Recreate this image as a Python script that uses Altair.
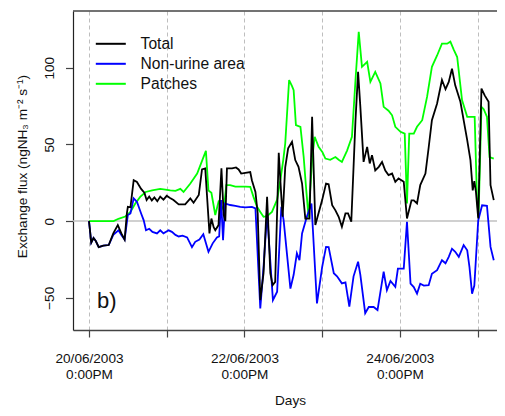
import pandas as pd
import altair as alt

# Hours after 20/06/2003 12:00 and exchange flux (ngNH3 m-2 s-1)
total_h = [0, 0.7, 1.4, 2.1, 3.0, 4.4, 6.1, 7.5, 8.9, 10.0,
           11.0, 11.7, 12.0, 12.8, 13.8, 14.8, 16.1, 17.1, 17.8, 18.6,
           19.4, 20.2, 21.1, 22.0, 23.0, 24.0, 24.9, 26.1, 27.7, 29.7,
           31.3, 32.3, 33.9, 34.9, 35.9, 37.2, 37.8, 38.5, 39.0, 40.0,
           40.9, 41.6, 42.1, 42.6, 44.2, 45.4, 46.2, 47.0, 48.3, 49.8,
           50.3, 51.4, 52.1, 52.9, 53.9, 55.0, 56.0, 56.7, 57.5, 58.6,
           59.4, 59.8, 60.6, 61.5, 62.7, 63.7, 64.7, 65.8, 66.8, 68.1,
           68.9, 69.9, 72.0, 73.2, 74.0, 75.1, 76.1, 77.1, 78.1, 79.2,
           80.0, 81.0, 82.3, 83.1, 83.8, 84.8, 85.9, 86.7, 87.4, 88.4,
           89.5, 90.5, 91.5, 92.5, 93.6, 94.6, 95.6, 97.2, 98.2, 99.6,
           100.3, 101.3, 102.3, 103.9, 104.9, 105.9, 107.5, 109.0, 110.1, 111.1,
           112.1, 113.1, 114.7, 115.7, 116.8, 117.8, 118.5, 119.0, 119.5, 120.2,
           121.2, 122.2, 123.4, 124.0, 125.0]
total_v = [0, -14, -11, -13, -17, -16, -15.6, -8, -2.6, -8,
           -12, 5, 9.3, 9, 26.7, 25.5, 21, 18.5, 13.7, 16,
           13.5, 15.5, 13, 16, 14, 16.5, 15.2, 13.7, 10.9, 10.9,
           14.8, 12, 17, 33.7, 34.4, -8, 1.7, -4, -6, -2.6,
           34.4, 4, 0, 34.4, 34.4, 35, 33.7, 31, 31.5, 32,
           26.7, 19, 5, -51.5, -34, 15.8, -34, -41.7, -39.6, 44.5,
           15.8, 2.8, 35, 47.4, 51.7, 39.8, 35.4, 24.5, 1.7, 1.7,
           68, -2.6, 13.7, 24.5, 24, 10.4, 7, 2.8, -3.7, 5,
           5, -0.4, 65.8, 97.3, 74.5, 38.6, 48.4, 37.6, 43, 33,
           35.4, 38.6, 33, 30, 31, 25.6, 27.8, 25.6, 1.7, 13.5,
           13.5, 11.5, 23.5, 31, 48, 65.8, 76.7, 92, 86, 90.8,
           99.4, 88.5, 77.8, 65.8, 52.8, 39.8, 20, 26, 19, 1.7,
           86.4, 82, 77.8, 23.5, 13.7]

nonurine_h = [0, 0.7, 1.4, 2.1, 3.0, 4.4, 6.1, 7.5, 9.1, 10.0,
              11.0, 12.0, 12.8, 13.8, 14.8, 16.1, 16.9, 17.6, 18.6, 19.6,
              21.0, 22.0, 23.0, 24.6, 25.6, 26.7, 27.7, 28.9, 30.3, 31.8,
              32.8, 34.1, 35.3, 36.9, 38.2, 39.5, 40.2, 40.8, 41.4, 42.0,
              43.6, 45.2, 46.7, 48.3, 50.3, 51.4, 52.9, 53.9, 55.0, 56.8,
              58.1, 59.4, 60.1, 62.2, 63.2, 64.2, 65.0, 65.8, 67.3, 68.7,
              70.4, 72.0, 73.2, 74.0, 75.6, 76.6, 78.1, 79.2, 80.4, 81.7,
              83.1, 83.8, 85.3, 86.4, 87.9, 89.1, 91.0, 92.0, 93.1, 94.6,
              95.4, 97.2, 98.2, 99.3, 100.3, 101.3, 102.3, 103.4, 104.9, 105.9,
              107.5, 109.0, 110.1, 111.1, 112.1, 113.1, 114.2, 115.7, 116.8, 117.5,
              118.3, 119.0, 120.2, 121.4, 122.9, 124.0, 125.0]
nonurine_v = [0, -14, -11, -13, -17, -16, -15.6, -9, -6, -9,
              -12, 4, 5, 14.8, 12.6, 5, 0.5, -6, -5, -7,
              -8, -6, -8, -6, -7, -9, -10, -9.5, -10.6, -17,
              -13.5, -12, -8.5, -20, -14.5, -10.6, -10, 13.7, -12.4, 11.5,
              10.5, 10, 9.3, 9, 9.3, 8.3, -57, -30, 5, -51.5,
              -46, 9.3, 0.6, -44, -35, -21, -25.4, -8, 3, 11.5,
              -53.7, -30, -16.8, -17, -34, -36, -40.6, -40, -55.8, -36,
              -26.5, -35, -60, -56, -56, -58, -33, -45, -39, -42.8,
              -31, -31, -0.5, -40.8, -43, -47.3, -40.8, -42, -41.8, -34.3,
              -32, -25.5, -27.5, -23.3, -18, -20, -23.3, -15.6, -19, -30,
              -47.3, -42, 0.4, 10.3, 10, -16.8, -25.5]

patches_h = [0, 7.6, 9.1, 11.2, 12.8, 14.3, 15.8, 17.5, 19.5, 22.0,
             23.6, 25.1, 26.7, 28.2, 29.2, 31.3, 33.4, 36.1, 36.9, 37.8,
             39.0, 40.0, 40.9, 41.6, 42.4, 43.6, 45.2, 46.7, 48.3, 49.8,
             50.8, 51.9, 52.9, 53.9, 55.0, 56.5, 58.1, 59.1, 60.0, 60.6,
             61.8, 62.7, 63.2, 63.9, 65.3, 66.3, 67.1, 67.8, 68.9, 69.7,
             70.9, 72.1, 73.0, 74.5, 76.1, 77.1, 78.1, 79.7, 81.2, 82.3,
             83.3, 84.3, 85.9, 86.9, 88.4, 90.0, 91.0, 92.5, 93.6, 94.6,
             96.2, 97.5, 98.2, 98.9, 100.3, 101.3, 102.9, 104.4, 105.9, 107.5,
             109.0, 110.6, 111.6, 112.6, 113.7, 115.2, 116.8, 119.1, 119.8, 120.3,
             121.2, 121.9, 122.9, 123.7, 125.0]
patches_v = [0, 0, 1.5, 3, 6, 11.5, 15.8, 19, 20, 21,
             20.5, 20, 19.7, 21, 19, 24.5, 31, 45.8, 20, 18.5,
             4, 12.6, 10, 7, 23.5, 23.5, 22.5, 22.5, 22.5, 22.4,
             15.8, 9.3, 6, 2.8, 3.3, 6, 14, 26.7, 40, 50.6,
             92, 88, 85.4, 62.6, 61.5, 41.8, 20, 2.8, 40, 55,
             48.4, 45, 40.8, 40, 41.8, 40, 38.6, 46, 55, 92,
             123.4, 100.6, 103.8, 90.8, 97.3, 89.8, 74.5, 72, 69, 61.5,
             58.2, 57, 11.5, 57, 57, 61.5, 65.8, 81, 100.6, 108,
             115.7, 115.7, 117, 112, 107, 78.9, 68, 68, 15.8, 2.8,
             74.5, 73, 68, 41.8, 40.8]

series_names = ['Total', 'Non-urine area', 'Patches']
series_colors = ['black', '#0000FF', '#00FF00']

tick_hours = [0, 48, 96]
tick_days = ['20/06/2003', '22/06/2003', '24/06/2003']

frames = []
for name, hrs, vals in zip(series_names,
                           [total_h, nonurine_h, patches_h],
                           [total_v, nonurine_v, patches_v]):
    frames.append(pd.DataFrame({'hours': hrs, 'flux': vals, 'series': name}))
data = pd.concat(frames, ignore_index=True)

# two-line labels on every second day
label_expr = ''.join(
    f"datum.value == {h} ? ['{d}', '0:00PM'] : " for h, d in zip(tick_hours, tick_days)
) + "''"

FONT = 'Liberation Sans'

x_enc = alt.X('hours:Q',
              scale=alt.Scale(domain=[-4.94, 126.0], nice=False, zero=False),
              axis=alt.Axis(values=[0, 24, 48, 72, 96, 120], labelExpr=label_expr,
                            title='Days', grid=True, gridDash=[4, 3], gridColor='#BEBEBE',
                            gridWidth=1, domainColor='#444444', domainWidth=1.5,
                            tickColor='#444444', tickSize=7, tickWidth=1.2,
                            labelFont=FONT, labelFontSize=13.6, labelColor='#111111',
                            labelBaseline='top', labelAlign='center', labelPadding=14,
                            labelLineHeight=16, labelOverlap=False, labelFlush=False,
                            titleFont=FONT, titleFontSize=13.6, titleFontWeight='normal',
                            titleColor='#111111', titleX=217, titleY=74,
                            titleAlign='center', titleBaseline='alphabetic'))

y_enc = alt.Y('flux:Q',
              scale=alt.Scale(domain=[-71, 137], nice=False, zero=False),
              axis=alt.Axis(values=[-50, 0, 50, 100], grid=False,
                            title='Exchange flux (ngNH₃ m⁻² s⁻¹)',
                            domainColor='#222222', domainWidth=1.2,
                            tickColor='#444444', tickSize=7.5, tickWidth=1.2,
                            labelFont=FONT, labelFontSize=13.6, labelColor='#111111',
                            labelAngle=270, labelAlign='center', labelBaseline='alphabetic',
                            labelPadding=12.4,
                            titleFont=FONT, titleFontSize=13.6, titleFontWeight='normal',
                            titleColor='#111111', titleAngle=270, titleX=-47, titleY=155,
                            titleAlign='center', titleBaseline='alphabetic'))

color_enc = alt.Color('series:N',
                      scale=alt.Scale(domain=series_names, range=series_colors),
                      legend=alt.Legend(title=None, orient='none', legendX=30, legendY=25,
                                        symbolType='M-3,0H3', symbolSize=100,
                                        symbolStrokeWidth=2, labelFont=FONT,
                                        labelFontSize=15.6, labelColor='#111111',
                                        labelOffset=22, rowPadding=3, padding=0))

zero_line = alt.Chart(pd.DataFrame({'flux': [0]})).mark_rule(
    color='#C0C0C0', strokeWidth=1.5
).encode(y='flux:Q')

top_frame = alt.Chart(pd.DataFrame({'flux': [0]})).mark_rule(
    color='#444444', strokeWidth=1.5
).encode(x=alt.value(0), x2=alt.value(424), y=alt.value(0))

base = alt.Chart(data).encode(x=x_enc, y=y_enc, color=color_enc)
# patches underneath, total on top
lines = [base.transform_filter(alt.datum.series == n).mark_line(strokeWidth=1.8)
         for n in reversed(series_names)]

panel_label = alt.Chart(pd.DataFrame({'label': ['b)']})).mark_text(
    font=FONT, fontSize=22, align='left', baseline='alphabetic', fill='#111111'
).encode(text='label:N', x=alt.value(24), y=alt.value(297))

chart = alt.layer(zero_line, *lines, top_frame, panel_label).properties(
    width=424,
    height=319,
    autosize=alt.AutoSizeParams(type='none'),
    padding={'left': 65, 'top': 3, 'right': 0, 'bottom': 78}
).configure_view(stroke=None)

chart.save("out.html", embed_options={"renderer": "svg", "actions": False})
